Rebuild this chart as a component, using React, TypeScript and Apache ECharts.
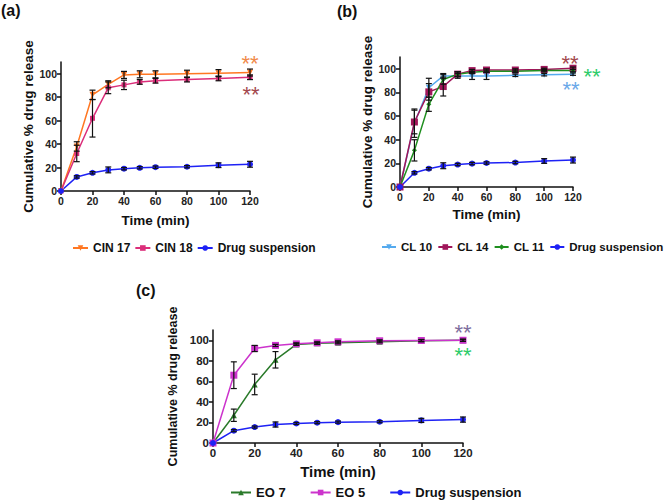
import React, { useEffect, useRef } from "react";
import * as echarts from "echarts";

const times = [0, 10, 20, 30, 40, 50, 60, 80, 100, 120];
const yTicks = [0, 20, 40, 60, 80, 100];

const cin17 = [0, 38, 82, 91, 99, 99.5, 99.5, 100, 100.5, 101];
const cin17Err = [0, 4, 4, 3, 3, 3, 3, 3, 3, 3];
const cin18 = [0, 32, 62, 88, 90.5, 93, 94, 95, 96, 97];
const cin18Err = [0, 7, 16, 5, 4, 2, 2, 2, 2, 2];
const drugSusp = [0, 12, 15.5, 18, 19, 19.8, 20.3, 20.7, 22, 22.8];
const drugSuspErr = [0, 1, 1, 2.5, 1, 1, 1, 1, 2, 2.5];
const cl10 = [0, 54, 84, 94, 94, 94, 94, 94.5, 95, 95.5];
const cl10Err = [0, 12, 8, 2, 2, 3, 3, 1, 1, 1];
const cl14 = [0, 55, 80.5, 85, 95.5, 98.5, 99, 99, 99.5, 100.5];
const cl14Err = [0, 10, 7, 8, 2, 1, 1, 1, 1, 1];
const cl11 = [0, 31, 70, 91, 95.5, 97, 98, 98, 98.5, 98.5];
const cl11Err = [0, 9, 6, 4, 2, 1, 1, 1, 1, 1];
const eo7 = [0, 27, 57, 81, 96, 97, 97.5, 98.5, 99.5, 100];
const eo7Err = [0, 6, 10, 8, 1, 1, 1, 1, 1, 1];
const eo5 = [0, 66, 92, 95, 96.5, 97.5, 98.5, 99.5, 99.8, 100];
const eo5Err = [0, 13, 3, 1, 1, 1, 1, 1, 1, 1];

const legendA = ["CIN 17", "CIN 18", "Drug suspension"];
const legendB = ["CL 10", "CL 14", "CL 11", "Drug suspension"];
const legendC = ["EO 7", "EO 5", "Drug suspension"];

const FONT = "Liberation Sans, Arial, sans-serif";

const pairs = (ys: number[]) => times.map((t, i) => [t, ys[i]]);
const errPairs = (ys: number[], es: number[]) =>
  times.map((t, i) => [t, ys[i] - es[i], ys[i] + es[i]]).filter((d, i) => es[i] > 0);

function errRender(params: any, api: any) {
  const x = api.value(0);
  const lo = api.value(1);
  const hi = api.value(2);
  const p1 = api.coord([x, lo]);
  const p2 = api.coord([x, hi]);
  const w = 3;
  const style = { stroke: "#111", lineWidth: 1.2 };
  return {
    type: "group",
    children: [
      { type: "line", shape: { x1: p1[0], y1: p1[1], x2: p2[0], y2: p2[1] }, style },
      { type: "line", shape: { x1: p1[0] - w, y1: p1[1], x2: p1[0] + w, y2: p1[1] }, style },
      { type: "line", shape: { x1: p2[0] - w, y1: p2[1], x2: p2[0] + w, y2: p2[1] }, style },
    ],
  };
}

function lineSeries(name: string, ys: number[], idx: number, color: string, symbol: string, rotate = 0, size = 6) {
  return {
    type: "line",
    name,
    xAxisIndex: idx,
    yAxisIndex: idx,
    data: pairs(ys),
    color,
    symbol,
    symbolRotate: rotate,
    symbolSize: size,
    lineStyle: { width: 1.5, color },
    itemStyle: { color },
    z: 2,
  };
}

function errSeries(ys: number[], es: number[], idx: number) {
  return {
    type: "custom",
    name: "err",
    xAxisIndex: idx,
    yAxisIndex: idx,
    data: errPairs(ys, es),
    encode: { x: 0, y: [1, 2] },
    renderItem: errRender,
    z: 3,
    silent: true,
  };
}

function xAxisOf(idx: number, labelSize: number, nameSize: number, nameGap: number) {
  return {
    gridIndex: idx,
    type: "value",
    min: 0,
    max: 120,
    interval: 20,
    axisLine: { lineStyle: { color: "#111", width: 1.5 } },
    axisTick: { length: 4, lineStyle: { color: "#111", width: 1.5 } },
    splitLine: { show: false },
    axisLabel: { fontFamily: FONT, fontWeight: "bold", fontSize: labelSize, color: "#222", margin: 4 },
    name: "Time (min)",
    nameLocation: "middle",
    nameGap,
    nameTextStyle: { fontFamily: FONT, fontWeight: "bold", fontSize: nameSize, color: "#111" },
  };
}

function yAxisOf(idx: number, labelSize: number, nameSize: number, nameGap: number) {
  return {
    gridIndex: idx,
    type: "value",
    min: 0,
    max: 110,
    interval: 20,
    axisLine: { show: true, lineStyle: { color: "#111", width: 1.5 } },
    axisTick: { show: true, length: 4, lineStyle: { color: "#111", width: 1.5 }, customValues: yTicks },
    splitLine: { show: false },
    axisLabel: { fontFamily: FONT, fontWeight: "bold", fontSize: labelSize, color: "#222", margin: 4, customValues: yTicks },
    name: "Cumulative % drug release",
    nameLocation: "middle",
    nameGap,
    nameTextStyle: { fontFamily: FONT, fontWeight: "bold", fontSize: nameSize, color: "#111" },
  };
}

function legendOf(data: string[], left: number, top: number, gap: number, size: number, iw: number) {
  return {
    data,
    left,
    top,
    width: 600,
    orient: "horizontal",
    itemGap: gap,
    itemWidth: iw,
    itemHeight: 7,
    padding: 0,
    textStyle: { fontFamily: FONT, fontWeight: "bold", fontSize: size, color: "#111" },
  };
}

function stars(x: number, y: number, color: string) {
  return {
    type: "text",
    x,
    y: y + 5,
    style: {
      text: "**",
      fill: color,
      font: "normal 22px Liberation Sans",
      align: "center",
      verticalAlign: "middle",
    },
  };
}

function panelLabel(text: string, x: number, y: number) {
  return {
    type: "text",
    x,
    y,
    style: { text, fill: "#111", font: "bold 16px Liberation Sans", align: "left", verticalAlign: "top" },
  };
}

export default function App() {
  const ref = useRef<HTMLDivElement>(null);
  useEffect(() => {
    if (!ref.current) return;
    const chart = echarts.init(ref.current, null, { renderer: "svg" });
    const blue = "#1e22f5";
    chart.setOption({
      animation: false,
      backgroundColor: "#fff",
      grid: [
        { left: 61, top: 62, width: 189, height: 129 },
        { left: 400, top: 57, width: 173, height: 130 },
        { left: 213, top: 330, width: 250, height: 113 },
      ],
      xAxis: [xAxisOf(0, 10.5, 13.5, 22), xAxisOf(1, 10.5, 13.5, 20), xAxisOf(2, 11.5, 15, 21)],
      yAxis: [yAxisOf(0, 10.5, 13.5, 22), yAxisOf(1, 10.5, 13.5, 20), yAxisOf(2, 11.5, 12.5, 34)],
      legend: [
        legendOf(legendA, 72, 242, 4, 12, 15),
        legendOf(legendB, 381, 241, 5, 11.5, 14),
        legendOf(legendC, 230, 486, 24, 13, 20),
      ],
      graphic: [
        panelLabel("(a)", 1, 2),
        panelLabel("(b)", 337, 3),
        panelLabel("(c)", 136, 282),
        stars(250, 58, "#f08a4b"),
        stars(251, 89, "#a3484e"),
        stars(570, 58, "#a3484e"),
        stars(592, 71, "#2ecc6a"),
        stars(571, 84, "#6aa8e8"),
        stars(463, 327, "#7e6e9e"),
        stars(463, 350, "#2ecc6a"),
      ],
      series: [
        lineSeries("CIN 17", cin17, 0, "#ff7722", "triangle", 180),
        lineSeries("CIN 18", cin18, 0, "#db2e7a", "rect", 0, 5),
        lineSeries("Drug suspension", drugSusp, 0, blue, "circle"),
        errSeries(cin17, cin17Err, 0),
        errSeries(cin18, cin18Err, 0),
        errSeries(drugSusp, drugSuspErr, 0),

        lineSeries("CL 10", cl10, 1, "#55aaee", "triangle", 180),
        lineSeries("CL 14", cl14, 1, "#a0165a", "rect", 0, 7),
        lineSeries("CL 11", cl11, 1, "#1f8f1f", "diamond", 0, 5),
        lineSeries("Drug suspension", drugSusp, 1, blue, "circle"),
        errSeries(cl10, cl10Err, 1),
        errSeries(cl14, cl14Err, 1),
        errSeries(cl11, cl11Err, 1),
        errSeries(drugSusp, drugSuspErr, 1),

        lineSeries("EO 7", eo7, 2, "#2a7a2a", "triangle", 0, 6),
        lineSeries("EO 5", eo5, 2, "#cc33cc", "rect", 0, 7),
        lineSeries("Drug suspension", drugSusp, 2, blue, "circle"),
        errSeries(eo7, eo7Err, 2),
        errSeries(eo5, eo5Err, 2),
        errSeries(drugSusp, drugSuspErr, 2),
      ],
    });
    return () => chart.dispose();
  }, []);
  return (
    <div
      ref={ref}
      style={{ position: "absolute", left: 0, top: 0, width: 670, height: 501, background: "#fff" }}
    />
  );
}
